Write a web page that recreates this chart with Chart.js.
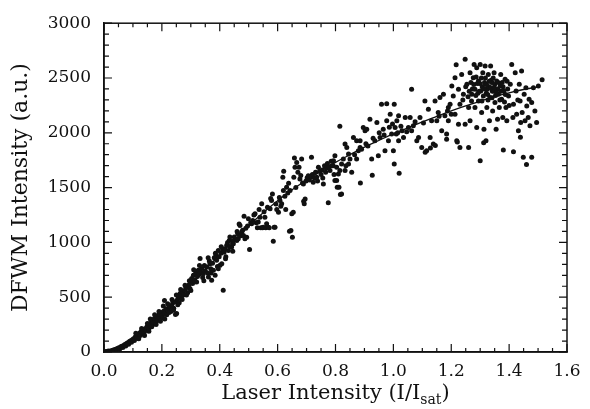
<!DOCTYPE html>
<html>
<head>
<meta charset="utf-8">
<title>DFWM Intensity vs Laser Intensity</title>
<script src="https://cdn.jsdelivr.net/npm/chart.js@4.4.1/dist/chart.umd.min.js"></script>
<style>
  html, body { margin: 0; padding: 0; background: #fff; }
  #wrap { width: 590px; height: 409px; }
</style>
</head>
<body>
<div id="wrap"><canvas id="chart" width="590" height="409"></canvas></div>
<script>
const dfwmPoints = [
  [0.003,2],[0.008,5],[0.012,0],[0.015,8],[0.018,4],[0.022,10],[0.025,3],[0.028,14],[0.032,18],[0.035,9],
  [0.038,22],[0.042,28],[0.045,20],[0.048,34],[0.052,38],[0.055,30],[0.058,48],[0.062,52],[0.065,42],[0.068,60],
  [0.072,68],[0.075,55],[0.078,78],[0.082,84],[0.085,70],[0.088,96],[0.092,102],[0.095,88],[0.098,112],[0.102,120],
  [0.105,104],[0.108,136],[0.112,148],[0.115,126],[0.118,160],[0.122,170],[0.125,150],[0.128,186],[0.132,178],[0.135,200],
  [0.138,168],[0.142,212],[0.145,196],[0.148,228],
  [0.152,240],[0.155,215],[0.159,261],[0.162,238],[0.165,285],[0.168,250],[0.17,276],[0.173,300],[0.176,306],[0.179,270],
  [0.182,318],[0.185,290],[0.188,321],[0.191,345],[0.194,305],[0.197,360],[0.2,336],[0.203,312],[0.206,372],[0.209,471],
  [0.21,352],[0.214,395],[0.217,340],[0.222,382],[0.225,420],[0.228,412],[0.231,370],[0.234,427],[0.238,455],[0.241,400],
  [0.245,458],[0.247,343],[0.251,352],[0.254,480],[0.257,503],[0.26,450],[0.263,533],[0.266,510],[0.268,488],[0.272,545],
  [0.275,520],[0.28,564],[0.283,590],[0.286,594],[0.289,540],[0.292,610],[0.297,579],[0.3,640],
  [0.11,170],[0.12,120],[0.13,215],[0.14,150],[0.15,260],[0.155,190],[0.16,300],[0.165,230],[0.175,340],[0.18,250],
  [0.19,370],[0.195,280],[0.205,420],[0.21,300],[0.22,440],[0.225,360],[0.235,480],[0.24,380],[0.25,520],[0.255,430],
  [0.265,570],[0.27,480],[0.28,610],[0.285,520],[0.295,650],[0.3,560],
  [0.303,670],[0.306,625],[0.309,700],[0.313,660],[0.317,720],[0.32,639],[0.323,690],[0.326,745],[0.329,710],[0.332,852],
  [0.335,730],[0.338,761],[0.341,680],[0.343,715],[0.347,790],[0.35,740],[0.355,776],[0.358,720],[0.361,685],[0.364,830],
  [0.366,806],[0.369,760],[0.372,655],[0.375,810],[0.378,745],[0.381,860],[0.384,700],[0.387,880],[0.389,836],[0.392,780],
  [0.395,927],[0.398,870],[0.401,791],[0.404,900],[0.407,806],[0.41,940],[0.412,564],[0.415,910],[0.418,942],[0.421,870],
  [0.424,973],[0.427,1000],[0.43,927],[0.433,1018],[0.436,960],[0.441,958],[0.444,1010],[0.447,988],[0.45,1050],
  [0.31,750],[0.315,640],[0.33,790],[0.345,650],[0.36,860],[0.37,720],[0.385,900],[0.395,760],[0.405,960],[0.42,850],
  [0.435,1050],[0.445,920],[0.46,1100],
  [0.455,1030],[0.459,1018],[0.462,1080],[0.464,1033],[0.467,1169],[0.47,1155],[0.473,1060],[0.476,1094],[0.479,1110],[0.482,1064],
  [0.484,1239],[0.487,1033],[0.49,1130],[0.493,1048],[0.496,1150],[0.499,1215],[0.503,935],[0.507,1180],[0.51,1170],[0.514,1200],
  [0.518,1250],[0.522,1261],[0.526,1180],[0.53,1133],[0.533,1185],[0.536,1300],[0.539,1230],[0.542,1133],[0.545,1352],[0.548,1133],
  [0.55,1139],[0.553,1280],[0.556,1230],[0.559,1133],[0.562,1170],[0.565,1320],[0.568,1139],[0.571,1133],[0.574,1306],[0.576,1400],
  [0.579,1382],[0.582,1442],[0.585,1010],[0.588,1139],[0.591,1139],[0.594,1350],[0.597,1300],
  [0.603,1276],[0.606,1410],[0.608,1382],[0.611,1330],[0.614,1352],[0.618,1594],[0.62,1473],[0.621,1649],[0.625,1420],[0.628,1300],
  [0.631,1503],[0.635,1450],[0.638,1540],[0.641,1102],[0.643,1473],[0.646,1109],[0.649,1261],[0.651,1048],[0.654,1276],[0.656,1594],
  [0.658,1771],[0.66,1685],[0.663,1500],[0.666,1730],[0.67,1640],[0.674,1686],[0.677,1579],[0.68,1610],[0.683,1761],[0.686,1543],
  [0.689,1533],[0.69,1376],[0.692,1352],[0.695,1397],[0.698,1560],[0.702,1590],[0.706,1609],[0.71,1570],[0.714,1600],[0.717,1776],
  [0.72,1620],[0.723,1548],[0.727,1588],[0.731,1640],[0.735,1594],[0.738,1560],[0.741,1685],[0.745,1649],[0.75,1620],[0.754,1660],
  [0.756,1588],[0.758,1533],[0.762,1700],[0.766,1640],[0.769,1679],[0.772,1720],[0.775,1362],[0.778,1690],[0.781,1655],[0.785,1740],
  [0.788,1700],[0.792,1700],[0.795,1620],[0.798,1564],
  [0.793,1745],[0.798,1791],[0.804,1685],[0.806,1503],[0.81,1624],[0.804,1564],[0.812,1503],[0.815,2059],[0.817,1437],[0.815,1655],
  [0.821,1715],[0.821,1442],[0.827,1761],[0.833,1897],[0.836,1700],[0.839,1867],[0.833,1655],[0.845,1806],[0.845,1715],[0.85,1760],
  [0.856,1639],[0.862,1958],[0.866,1800],[0.873,1927],[0.873,1761],[0.879,1836],[0.885,1867],[0.886,1543],[0.885,1927],[0.89,1850],
  [0.896,2048],[0.902,2018],[0.905,1900],[0.908,2033],[0.912,1880],[0.919,2124],[0.925,1761],[0.927,1613],[0.93,1950],[0.936,1927],
  [0.943,2094],[0.948,1791],[0.951,2000],[0.954,1958],[0.959,2261],[0.965,2033],[0.968,1980],[0.971,1836],[0.977,2109],[0.977,2266],
  [0.983,1927],[0.986,2050],[0.989,2170],[0.994,1988],[0.997,2080],[1.0,1836],
  [1.003,2261],[1.003,1716],[1.006,2048],[1.01,1990],[1.012,2109],[1.015,2000],[1.018,1927],[1.02,1631],[1.018,2155],[1.026,2060],
  [1.03,2018],[1.035,1958],[1.041,2139],[1.046,2010],[1.052,2048],[1.058,2139],[1.063,2397],[1.063,2018],[1.069,2064],[1.075,2100],
  [1.081,1927],[1.087,1958],[1.092,2139],[1.098,1867],[1.104,2090],[1.109,2291],[1.11,1822],[1.115,1836],[1.121,2215],[1.127,1958],
  [1.128,1862],[1.132,2109],[1.138,1897],[1.144,2291],[1.145,1883],[1.15,2109],[1.155,2185],[1.158,2150],[1.161,2321],[1.167,2018],
  [1.173,2352],[1.178,2155],[1.184,1988],[1.184,1942],[1.187,2200],[1.19,2230],[1.19,2109],[1.196,2261],[1.2,2170],
  [1.202,2427],[1.207,2336],[1.213,2503],[1.213,2170],[1.217,2621],[1.219,1927],[1.221,1916],[1.225,2397],[1.225,2079],[1.23,2261],
  [1.23,1867],[1.236,2533],[1.24,2300],[1.242,2352],[1.248,2670],[1.248,2079],[1.25,2420],[1.254,2442],[1.258,2330],[1.26,2230],
  [1.26,1867],[1.265,2548],[1.265,2109],[1.268,2460],[1.271,2352],[1.273,2400],[1.276,2503],[1.279,2624],[1.282,2230],[1.282,2397],
  [1.285,2340],[1.288,2048],[1.288,2594],[1.29,2450],[1.294,2291],[1.294,2473],[1.297,2380],[1.3,1745],[1.3,2624],[1.302,2382],
  [1.304,2500],[1.305,2185],[1.307,2420],[1.309,2548],[1.311,2336],[1.312,1910],[1.313,2033],[1.315,2460],[1.317,2609],[1.317,2442],
  [1.32,1927],[1.321,2360],[1.323,2230],[1.325,2397],[1.327,2300],[1.328,2533],[1.33,2420],[1.332,2109],[1.334,2321],[1.336,2609],
  [1.338,2480],[1.34,2458],[1.342,2380],[1.343,2200],[1.346,2382],[1.348,2548],[1.35,2440],[1.351,2276],[1.353,2340],[1.355,2033],
  [1.357,2473],[1.36,2124],[1.361,2400],[1.363,2352],[1.366,2230],[1.369,2427],[1.371,2533],[1.374,2306],[1.376,2460],[1.378,2139],
  [1.38,1843],[1.382,2382],[1.384,2280],[1.386,2488],[1.389,2230],[1.392,2109],[1.395,2400],[1.398,2336],[1.4,2250],[1.404,2442],
  [1.409,2624],[1.413,2139],[1.415,2261],[1.415,1828],[1.421,2548],[1.424,2382],[1.426,2170],[1.43,2300],[1.432,2018],[1.435,2442],
  [1.438,2291],[1.439,1959],[1.44,2094],[1.443,2564],[1.445,2185],[1.449,1776],[1.452,2352],[1.455,2109],[1.458,2412],[1.46,1710],
  [1.461,2245],[1.466,2139],[1.469,2306],[1.472,2064],[1.478,1776],[1.478,2276],[1.484,2412],[1.489,2200],[1.495,2094],[1.501,2427],
  [1.514,2484],
  [1.262,2380],[1.27,2290],[1.278,2440],[1.286,2510],[1.292,2360],[1.299,2450],[1.306,2290],[1.314,2400],[1.318,2500],[1.322,2440],
  [1.326,2350],[1.331,2470],[1.337,2410],[1.341,2320],[1.345,2500],[1.349,2410],[1.356,2370],[1.362,2460],[1.368,2300],[1.372,2380],
  [1.379,2420],[1.387,2350],[1.393,2470]
];

// fitted curve
const fitX = [0, 0.05, 0.1, 0.15, 0.2, 0.25, 0.3, 0.35, 0.4, 0.45, 0.5, 0.55, 0.6, 0.65, 0.7, 0.75,
              0.8, 0.85, 0.9, 0.95, 1.0, 1.05, 1.1, 1.15, 1.2, 1.25, 1.3, 1.35, 1.4, 1.45, 1.5];
const fitY = [0, 40, 120, 215, 320, 460, 610, 750, 890, 1020, 1150, 1270, 1380, 1480, 1570, 1650,
              1730, 1800, 1870, 1930, 1990, 2045, 2100, 2150, 2200, 2245, 2290, 2330, 2365, 2395, 2420];

// axes
const xMin = 0, xMax = 1.6, xStep = 0.2, xMinorStep = 0.05;
const yMin = 0, yMax = 3000, yStep = 500, yMinorStep = 100;

const FONT = "'DejaVu Serif', 'Liberation Serif', serif";

// inward ticks on all four sides + frame + x title with subscript
const framePlugin = {
    id: 'frame',
    afterDraw(chart) {
        const ctx = chart.ctx;
        const a = chart.chartArea;
        const xs = chart.scales.x;
        const ys = chart.scales.y;
        ctx.save();
        ctx.strokeStyle = '#111';
        ctx.lineWidth = 1.5;
        ctx.strokeRect(a.left, a.top, a.right - a.left, a.bottom - a.top);

        ctx.lineWidth = 1.2;
        ctx.beginPath();
        const nx = Math.round((xMax - xMin) / xMinorStep);
        for (let i = 0; i <= nx; i++) {
            const px = xs.getPixelForValue(xMin + i * xMinorStep);
            const len = (i % Math.round(xStep / xMinorStep) === 0) ? 8 : 4;
            ctx.moveTo(px, a.bottom); ctx.lineTo(px, a.bottom - len);
            ctx.moveTo(px, a.top); ctx.lineTo(px, a.top + len);
        }
        const ny = Math.round((yMax - yMin) / yMinorStep);
        for (let i = 0; i <= ny; i++) {
            const py = ys.getPixelForValue(yMin + i * yMinorStep);
            const len = (i % Math.round(yStep / yMinorStep) === 0) ? 8 : 5;
            ctx.moveTo(a.left, py); ctx.lineTo(a.left + len, py);
            ctx.moveTo(a.right, py); ctx.lineTo(a.right - len, py);
        }
        ctx.stroke();

        // x axis title: Laser Intensity (I/I_sat)
        const main = 'Laser Intensity (I/I';
        const sub = 'sat';
        const close = ')';
        const big = '21px ' + FONT;
        const small = '14px ' + FONT;
        ctx.fillStyle = '#111';
        ctx.textBaseline = 'alphabetic';
        ctx.textAlign = 'left';
        ctx.font = big;
        const w1 = ctx.measureText(main).width;
        const w3 = ctx.measureText(close).width;
        ctx.font = small;
        const w2 = ctx.measureText(sub).width;
        const total = w1 + w2 + w3;
        let tx = (a.left + a.right) / 2 - total / 2;
        const base = 399;
        ctx.font = big;
        ctx.fillText(main, tx, base);
        tx += w1;
        ctx.font = small;
        ctx.fillText(sub, tx, base + 5);
        tx += w2;
        ctx.font = big;
        ctx.fillText(close, tx, base);
        ctx.restore();
    }
};

document.addEventListener('DOMContentLoaded', function() {
    const canvas = document.getElementById('chart');
    new Chart(canvas, {
        type: 'scatter',
        data: {
            datasets: [{
                label: 'DFWM signal',
                data: dfwmPoints.map(function(p) { return { x: p[0], y: p[1] }; }),
                pointRadius: 2.5,
                pointBackgroundColor: '#111',
                pointBorderWidth: 0,
                showLine: false
            }, {
                label: 'Fit',
                data: fitX.map(function(x, i) { return { x: x, y: fitY[i] }; }),
                showLine: true,
                borderColor: '#111',
                borderWidth: 1.3,
                pointRadius: 0,
                tension: 0.4,
                fill: false
            }]
        },
        options: {
            responsive: false,
            animation: false,
            layout: { padding: { top: 22, right: 23, left: 0, bottom: 0 } },
            plugins: {
                legend: { display: false },
                tooltip: { enabled: false }
            },
            scales: {
                x: {
                    type: 'linear',
                    min: xMin,
                    max: xMax,
                    afterFit: function(scale) { scale.height = 57; },
                    grid: { drawOnChartArea: false, drawTicks: false },
                    border: { display: true, color: '#111', width: 1.5 },
                    ticks: {
                        stepSize: xStep,
                        padding: 9,
                        color: '#111',
                        font: { family: FONT, size: 17 },
                        maxRotation: 0,
                        callback: function(value) { return Number(value).toFixed(1); }
                    }
                },
                y: {
                    type: 'linear',
                    min: yMin,
                    max: yMax,
                    afterFit: function(scale) { scale.width = 104; },
                    grid: { drawOnChartArea: false, drawTicks: false },
                    border: { display: true, color: '#111', width: 1.5 },
                    title: {
                        display: true,
                        text: 'DFWM Intensity (a.u.)',
                        color: '#111',
                        font: { family: FONT, size: 22 },
                        padding: { top: 8, bottom: 0 }
                    },
                    ticks: {
                        stepSize: yStep,
                        padding: 13,
                        color: '#111',
                        font: { family: FONT, size: 17 },
                        callback: function(value) { return String(value); }
                    }
                }
            }
        },
        plugins: [framePlugin]
    });
});
</script>
</body>
</html>
